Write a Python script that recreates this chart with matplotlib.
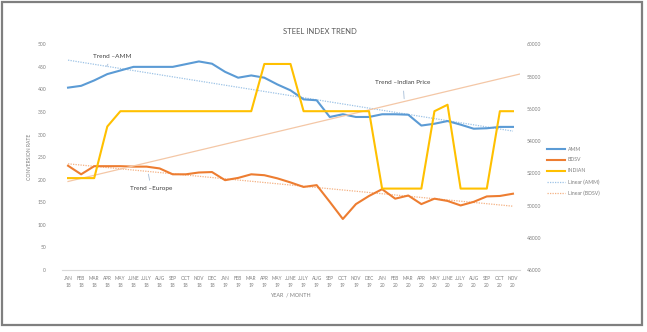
import numpy as np
import matplotlib
matplotlib.use("Agg")
import matplotlib.pyplot as plt
from matplotlib.lines import Line2D
from matplotlib.patches import Rectangle

plt.rcParams['font.family'] = ['Lato', 'DejaVu Sans']

# ============================
# DATA
# ============================
months = ["JAN", "FEB", "MAR", "APR", "MAY", "JUNE", "JULY", "AUG", "SEP", "OCT", "NOV", "DEC"]
labels = []
for yr in ["18", "19", "20"]:
    for m in months:
        labels.append(m + "\n" + yr)
labels = labels[:35]  # JAN 18 .. NOV 20

amm = [404, 408, 420, 434, 442, 450, 450, 450, 450, 456, 462, 457,
       439, 426, 431, 426, 411, 398, 378, 376, 339, 345, 339, 339,
       345, 345, 344, 320, 324, 330, 322, 313, 314, 317, 317]

bdsv = [231, 212, 230, 230, 230, 229, 229, 225, 212, 212, 216, 217,
        199, 204, 212, 210, 203, 194, 184, 188, 151, 113, 146, 164,
        179, 158, 165, 146, 158, 153, 143, 151, 163, 164, 169]

indian = [51700, 51700, 51700, 54900, 55850, 55850, 55850, 55850, 55850, 55850, 55850, 55850,
          55850, 55850, 55850, 58780, 58780, 58780, 55850, 55850, 55850, 55850, 55850, 55850,
          51050, 51050, 51050, 51050, 55850, 56250, 51050, 51050, 51050, 55850, 55850]

# Indian price trend as drawn in the original (start / end month index and value)
indian_trend_x = [0, 34.6]
indian_trend_y = [51490, 58170]

x = np.arange(len(labels))

c_amm = "#5B9BD5"
c_bdsv = "#ED7D31"
c_ind = "#FFC000"
c_txt = "#7F7F7F"

fig = plt.figure(figsize=(6.47, 3.32), dpi=100)
ax = fig.add_axes([61.5 / 647, 62 / 332, 458 / 647, 225.7 / 332])
ax2 = ax.twinx()

# trend lines (least squares, like Excel)
p_amm = np.polyfit(x, amm, 1)
p_bdsv = np.polyfit(x, bdsv, 1)
xt = np.array([0, 34])
ax.plot(xt, np.polyval(p_amm, xt), color="#9DC3E6", lw=0.9, ls=(0, (1, 1)), zorder=2)
ax.plot(xt, np.polyval(p_bdsv, xt), color="#F4B183", lw=0.9, ls=(0, (1, 1)), zorder=2)
ax2.plot(indian_trend_x, indian_trend_y, color="#F4C7A6", lw=0.9, zorder=2)

ax.plot(x, amm, color=c_amm, lw=1.5, zorder=3)
ax.plot(x, bdsv, color=c_bdsv, lw=1.5, zorder=3)
ax2.plot(x, indian, color=c_ind, lw=1.5, zorder=3)

ax.set_xlim(-0.5, 34.5)
ax.set_ylim(0, 500)
ax2.set_ylim(46000, 60000)
ax.set_yticks(range(0, 501, 50))
ax2.set_yticks(range(46000, 60001, 2000))
ax.set_xticks(x)
ax.set_xticklabels(labels, fontsize=3.4, color=c_txt, linespacing=1.6)

ax.tick_params(axis="y", length=0, labelsize=3.6, labelcolor=c_txt, pad=11)
ax2.tick_params(axis="y", length=0, labelsize=3.6, labelcolor=c_txt, pad=5)
ax.tick_params(axis="x", length=0, pad=4)

for a in (ax, ax2):
    for s in ["top", "right", "left"]:
        a.spines[s].set_visible(False)
    a.spines["bottom"].set_color("#D9D9D9")
    a.spines["bottom"].set_linewidth(0.8)
ax2.spines["bottom"].set_visible(False)

ax.set_xlabel("YEAR  / MONTH", fontsize=3.9, color=c_txt, labelpad=3)
ax.set_ylabel("CONVERSION RATE", fontsize=3.6, color=c_txt, labelpad=4)

fig.text(320 / 647, 1 - 32 / 332, "STEEL INDEX TREND", fontsize=5.5, color="#595959",
         ha="center", va="center")

# annotations
lead = dict(arrowstyle="-", color="#A6BDD7", lw=0.6)
ax.annotate("Trend \u2013AMM", xy=(2.95, np.polyval(p_amm, 2.95)), xytext=(3.4, 473),
            fontsize=4.6, color="#404040", ha="center", va="center", arrowprops=lead)
ax.annotate("Trend \u2013Europe", xy=(6.1, np.polyval(p_bdsv, 6.1)), xytext=(6.35, 181),
            fontsize=4.6, color="#404040", ha="center", va="center", arrowprops=lead)
slope = (indian_trend_y[1] - indian_trend_y[0]) / (indian_trend_x[1] - indian_trend_x[0])
ax2.annotate("Trend \u2013Indian Price", xy=(25.7, indian_trend_y[0] + slope * 25.7),
             xytext=(25.6, 57600),
             fontsize=4.6, color="#404040", ha="center", va="center", arrowprops=lead)

handles = [
    Line2D([], [], color=c_amm, lw=1.5),
    Line2D([], [], color=c_bdsv, lw=1.5),
    Line2D([], [], color=c_ind, lw=1.5),
    Line2D([], [], color="#9DC3E6", lw=0.9, ls=(0, (1, 1))),
    Line2D([], [], color="#F4B183", lw=0.9, ls=(0, (1, 1))),
]
fig.legend(handles, ["AMM", "BDSV", "INDIAN", "Linear (AMM)", "Linear (BDSV)"],
           loc="upper left", bbox_to_anchor=(544 / 647, 1 - 144 / 332), frameon=False,
           fontsize=3.7, handlelength=3.6, handletextpad=0.5, labelspacing=1.15,
           labelcolor=c_txt, borderpad=0)

fig.patches.append(Rectangle((2 / 647, 7 / 332), 640 / 647, 323 / 332, transform=fig.transFigure,
                             fill=False, edgecolor="#7F7F7F", lw=1.6))

plt.savefig("out.png", dpi=100)
